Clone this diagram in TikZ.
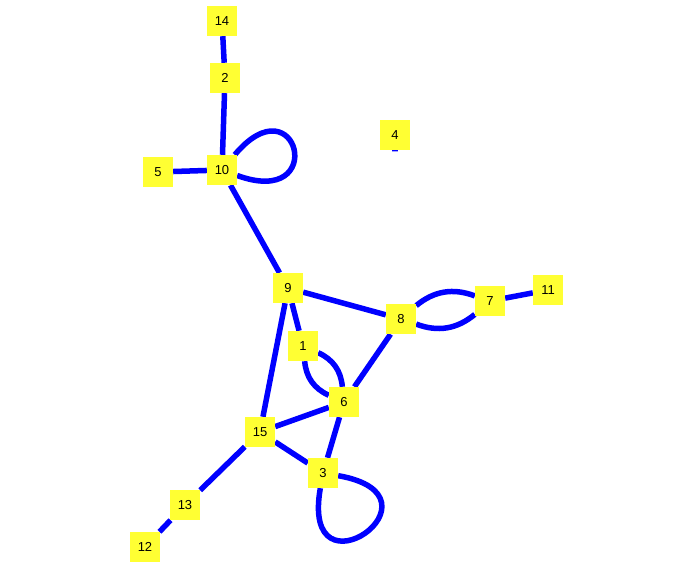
\documentclass[tikz,border=0pt]{standalone}
\usepackage{fontspec}
\setmainfont{Liberation Sans}
\usetikzlibrary{backgrounds}
\definecolor{vyellow}{RGB}{255,255,51}
\definecolor{eblue}{RGB}{0,0,255}
\begin{document}
\begin{tikzpicture}[x=1pt,y=1pt,
	vertex/.style={fill=vyellow, minimum size=30pt, inner sep=0pt, font=\fontsize{13}{15}\selectfont},
	edge/.style={draw=eblue, line width=5.5pt}]
	%Definitions%
	%===========================================================
	\def \W {694}; %Width of picture
	\def \H {567}; %Height of picture
	\useasboundingbox (0,0) rectangle (\W,\H);
	%Vertices%
	%===========================================================
	\node[vertex] (v14) at (222,546) {14};
	\node[vertex] (v2)  at (225,489) {2};
	\node[vertex] (v10) at (222,397) {10};
	\node[vertex] (v5)  at (158,395) {5};
	\node[vertex] (v4)  at (395,432) {4};
	\node[vertex] (v9)  at (288,279) {9};
	\node[vertex] (v8)  at (401,248) {8};
	\node[vertex] (v7)  at (490,266) {7};
	\node[vertex] (v11) at (548,277) {11};
	\node[vertex] (v1)  at (303,221) {1};
	\node[vertex] (v6)  at (344,165) {6};
	\node[vertex] (v15) at (260,135) {15};
	\node[vertex] (v3)  at (323,94)  {3};
	\node[vertex] (v13) at (185,62)  {13};
	\node[vertex] (v12) at (145,20)  {12};
	%Edges%
	%===========================================================
	\begin{pgfonlayer}{background}
	\draw[edge] (v14) -- (v2);
	\draw[edge] (v2) -- (v10);
	\draw[edge] (v5) -- (v10);
	\draw[edge] (v10) to[out=50,in=-20,min distance=98pt] (v10); %Loop at 10
	\draw[edge] (v4.center) to[out=-90,in=-90,min distance=22pt] (v4.center); %Loop at 4
	\draw[edge] (v10) -- (v9);
	\draw[edge] (v9) -- (v8);
	\draw[edge] (v9) -- (v1);
	\draw[edge] (v9) -- (v15);
	\draw[edge] (v8) to[bend left=30] (v7); %upper 8-7
	\draw[edge] (v8) to[bend right=30] (v7); %lower 8-7
	\draw[edge] (v7) -- (v11);
	\draw[edge] (v8) -- (v6);
	\draw[edge] (v1) to[bend left=30] (v6); %right 1-6
	\draw[edge] (v1) to[bend right=30] (v6); %left 1-6
	\draw[edge] (v6) -- (v15);
	\draw[edge] (v6) -- (v3);
	\draw[edge] (v15) -- (v3);
	\draw[edge] (v3) to[out=-10,in=-100,min distance=118pt] (v3); %Loop at 3
	\draw[edge] (v15) -- (v13);
	\draw[edge] (v13) -- (v12);
	\end{pgfonlayer}
\end{tikzpicture}
\end{document}
